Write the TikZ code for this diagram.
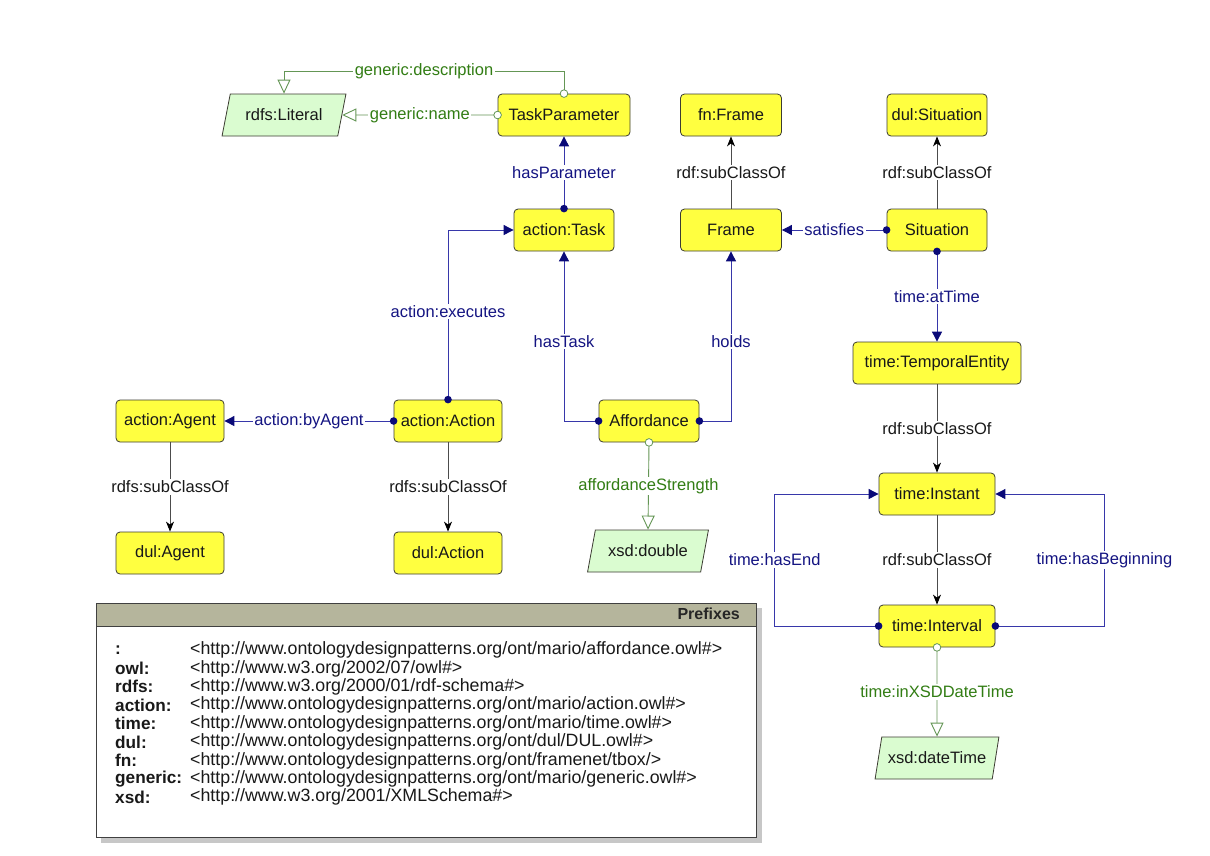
\documentclass[tikz,border=0pt]{standalone}
\usepackage{fontspec}
\setmainfont{Liberation Sans}
\usetikzlibrary{arrows.meta,shapes.geometric}
\definecolor{nodeyellow}{RGB}{255,255,64}
\definecolor{navytext}{RGB}{20,20,130}
\definecolor{navyline}{RGB}{55,55,170}
\definecolor{navydot}{RGB}{10,10,120}
\definecolor{greentext}{RGB}{50,125,20}
\definecolor{greenline}{RGB}{100,150,85}
\definecolor{litfill}{RGB}{218,252,208}
\definecolor{hdrfill}{RGB}{181,181,156}
\definecolor{borderc}{RGB}{60,60,50}
\newcommand{\ndfont}{\fontsize{16.5}{19}\selectfont}
\newcommand{\pxfont}{\fontsize{17.8}{19}\selectfont}
\newcommand{\pxkeyfont}{\fontsize{17.2}{19}\selectfont}
\begin{document}
\begin{tikzpicture}[x=1pt,y=-1pt,
  cls/.style={draw=borderc, line width=0.8pt, fill=nodeyellow, rounded corners=4pt,
    minimum height=42pt, inner sep=2pt, font=\ndfont, text=black!90},
  literal/.style={trapezium, trapezium left angle=69, trapezium right angle=111,
    trapezium stretches=true, draw=borderc, line width=0.8pt, fill=litfill,
    minimum height=42pt, inner sep=2pt, font=\ndfont, text=black!90},
  lbl/.style={fill=white, inner sep=1.5pt, font=\ndfont},
  objprop/.style={draw=navyline, line width=0.9pt, -{Triangle[length=10pt,width=10pt,color=navydot]}},
  dataprop/.style={draw=greenline, line width=0.9pt, -{Triangle[open,length=14pt,width=13pt,color=greenline,fill=white]}},
  subcls/.style={draw=black!70, line width=0.9pt, -{Stealth[length=10pt,width=8pt,inset=3pt,color=black]}},
  olbl/.style={lbl, text=navytext},
  dlbl/.style={lbl, text=greentext},
  slbl/.style={lbl, text=black!90},
  dot/.style={fill=navydot},
  odot/.style={draw=greenline, line width=0.8pt, fill=white},
  pfxkey/.style={anchor=west, font=\pxkeyfont\bfseries, inner sep=0pt, text=black!90},
  pfxval/.style={anchor=west, font=\pxfont, inner sep=0pt, text=black!90}
]
\useasboundingbox[fill=white] (0,0) rectangle (1210,855);

% ---- nodes ----
\node[cls, minimum width=132pt] (tp) at (564,115) {TaskParameter};
\node[literal, minimum width=124pt] (lit) at (284,115) {rdfs:Literal};
\node[cls, minimum width=101pt] (fnframe) at (731,115) {fn:Frame};
\node[cls, minimum width=100pt] (dulsit) at (937,115) {dul:Situation};
\node[cls, minimum width=100pt] (task) at (564,230) {action:Task};
\node[cls, minimum width=101pt] (frame) at (731,230) {Frame};
\node[cls, minimum width=100pt] (sit) at (937,230) {Situation};
\node[cls, minimum width=168pt] (temp) at (937,363) {time:TemporalEntity};
\node[cls, minimum width=108pt] (agent) at (170,421) {action:Agent};
\node[cls, minimum width=108pt] (action) at (448,421) {action:Action};
\node[cls, minimum width=100pt] (aff) at (649,421) {Affordance};
\node[cls, minimum width=108pt] (dulagent) at (170,553) {dul:Agent};
\node[cls, minimum width=108pt] (dulaction) at (448,553) {dul:Action};
\node[literal, minimum width=122pt] (dbl) at (648,551) {xsd:double};
\node[cls, minimum width=116pt] (instant) at (937,494) {time:Instant};
\node[cls, minimum width=116pt] (interval) at (937,626) {time:Interval};
\node[literal, minimum width=124pt] (dt) at (937,758) {xsd:dateTime};

% ---- connectors ----
\draw[dataprop] (tp.north) -- (tp.north |- 0,71) -- node[dlbl, midway]{generic:description} (lit.north |- 0,71) -- (lit.north);
\draw[dataprop] (tp.west) -- node[dlbl, midway]{generic:name} (lit.east);
\draw[objprop] (task.north) -- node[olbl, midway]{hasParameter} (tp.south);
\draw[subcls] (frame.north) -- node[slbl, midway]{rdf:subClassOf} (fnframe.south);
\draw[subcls] (sit.north) -- node[slbl, midway]{rdf:subClassOf} (dulsit.south);
\draw[objprop] (sit.west) -- node[olbl, midway]{satisfies} (frame.east);
\draw[objprop] (sit.south) -- node[olbl, midway]{time:atTime} (temp.north);
\draw[subcls] (temp.south) -- node[slbl, midway]{rdf:subClassOf} (instant.north);
\draw[subcls] (instant.south) -- node[slbl, midway]{rdf:subClassOf} (interval.north);
\draw[objprop] (interval.west) -- ++(-104,0) |- node[olbl, pos=0.25]{time:hasEnd} (instant.west);
\draw[objprop] (interval.east) -- ++(109,0) |- node[olbl, pos=0.25]{time:hasBeginning} (instant.east);
\draw[dataprop] (interval.south) -- node[dlbl, midway]{time:inXSDDateTime} (dt.north);
\draw[objprop] (action.north) |- node[olbl, pos=0.26]{action:executes} (task.west);
\draw[objprop] (aff.west) -| node[olbl, pos=0.735]{hasTask} (task.south);
\draw[objprop] (aff.east) -| node[olbl, pos=0.735]{holds} (frame.south);
\draw[objprop] (action.west) -- node[olbl, midway]{action:byAgent} (agent.east);
\draw[subcls] (agent.south) -- node[slbl, midway]{rdfs:subClassOf} (dulagent.north);
\draw[subcls] (action.south) -- node[slbl, midway]{rdfs:subClassOf} (dulaction.north);
\draw[dataprop] (aff.south) -- node[dlbl, midway]{affordanceStrength} (dbl.north);

% ---- end markers ----
\foreach \a in {task.north, sit.west, sit.south, interval.west, interval.east, action.north, aff.west, aff.east, action.west}
  \fill[dot] (\a) circle (3.8pt);
\foreach \a in {tp.north, tp.west, aff.south, interval.south}
  \draw[odot] (\a) circle (3.8pt);

% ---- prefixes box ----
\fill[black!22] (101,608) rectangle (762,843);
\draw[fill=white, draw=black!75, line width=0.8pt] (96,603) rectangle (756,837);
\draw[fill=hdrfill, draw=black!75, line width=0.8pt] (96,603) rectangle (756,626);
\node[anchor=east, font=\fontsize{16}{19}\selectfont\bfseries, inner sep=0pt, text=black!85] (pfxtitle) at (740,614) {Prefixes};
\node[pfxkey] (k1) at (115,650) {:};
\node[pfxval] (v1) at (190,650) {<http://www.ontologydesignpatterns.org/ont/mario/affordance.owl\#>};
\node[pfxkey] (k2) at (115,668.4) {owl:};
\node[pfxval] (v2) at (190,668.4) {<http://www.w3.org/2002/07/owl\#>};
\node[pfxkey] (k3) at (115,686.8) {rdfs:};
\node[pfxval] (v3) at (190,686.8) {<http://www.w3.org/2000/01/rdf-schema\#>};
\node[pfxkey] (k4) at (115,705.2) {action:};
\node[pfxval] (v4) at (190,705.2) {<http://www.ontologydesignpatterns.org/ont/mario/action.owl\#>};
\node[pfxkey] (k5) at (115,723.6) {time:};
\node[pfxval] (v5) at (190,723.6) {<http://www.ontologydesignpatterns.org/ont/mario/time.owl\#>};
\node[pfxkey] (k6) at (115,742) {dul:};
\node[pfxval] (v6) at (190,742) {<http://www.ontologydesignpatterns.org/ont/dul/DUL.owl\#>};
\node[pfxkey] (k7) at (115,760.4) {fn:};
\node[pfxval] (v7) at (190,760.4) {<http://www.ontologydesignpatterns.org/ont/framenet/tbox/>};
\node[pfxkey] (k8) at (115,778.8) {generic:};
\node[pfxval] (v8) at (190,778.8) {<http://www.ontologydesignpatterns.org/ont/mario/generic.owl\#>};
\node[pfxkey] (k9) at (115,797.2) {xsd:};
\node[pfxval] (v9) at (190,797.2) {<http://www.w3.org/2001/XMLSchema\#>};
\end{tikzpicture}
\end{document}
